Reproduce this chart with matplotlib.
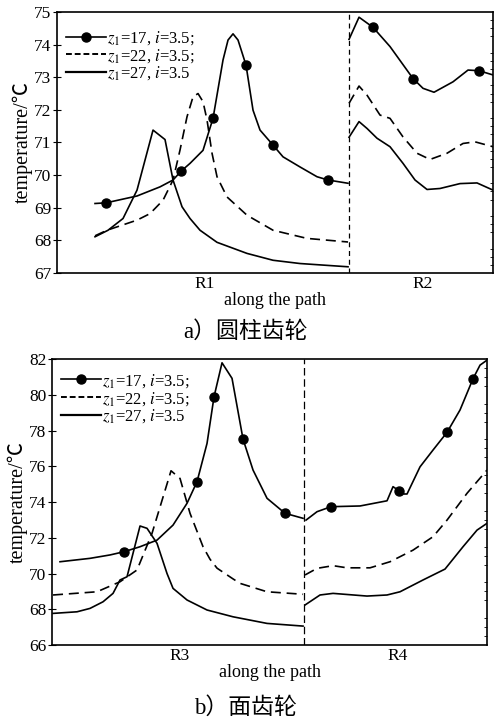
import matplotlib
matplotlib.use("Agg")
import matplotlib.pyplot as plt
from matplotlib.lines import Line2D
from matplotlib.ticker import MultipleLocator

plt.rcParams['font.family'] = ['Liberation Serif', 'Noto Sans CJK SC']
plt.rcParams['mathtext.fontset'] = 'stix'

#--- a) cylindrical gear, R1 | R2
a_div = 292
a_z17_r1_x = [38, 49, 80, 103, 116, 124, 133, 146, 156, 166, 171, 176, 181, 189, 196, 203, 216, 226, 243, 260, 271, 291]
a_z17_r1_y = [69.13, 69.15, 69.36, 69.64, 69.85, 70.12, 70.36, 70.76, 71.74, 73.53, 74.14, 74.33, 74.14, 73.37,
              71.99, 71.38, 70.92, 70.56, 70.25, 69.95, 69.85, 69.75]
a_z17_r1_mk = [1, 5, 8, 13, 16, 20]
a_z17_r2_x = [292, 302, 316, 333, 356, 366, 377, 396, 411, 422, 436]
a_z17_r2_y = [74.16, 74.84, 74.53, 73.94, 72.96, 72.66, 72.54, 72.86, 73.22, 73.20, 73.07]
a_z17_r2_mk = [2, 4, 9]

a_z22_r1_x = [38, 50, 80, 93, 106, 116, 123, 130, 136, 141, 146, 150, 155, 160, 170, 190, 216, 250, 291]
a_z22_r1_y = [68.14, 68.31, 68.62, 68.82, 69.23, 69.85, 70.77, 71.79, 72.40, 72.50, 72.25, 71.69, 70.67,
              69.95, 69.33, 68.77, 68.31, 68.06, 67.95]
a_z22_r2_x = [292, 302, 310, 323, 333, 346, 360, 373, 390, 406, 418, 436]
a_z22_r2_y = [72.20, 72.73, 72.45, 71.84, 71.74, 71.17, 70.67, 70.48, 70.67, 70.97, 71.02, 70.87]

a_z27_r1_x = [38, 51, 66, 80, 96, 108, 116, 125, 133, 143, 160, 190, 216, 243, 291]
a_z27_r1_y = [68.11, 68.31, 68.67, 69.54, 71.38, 71.09, 69.85, 69.03, 68.67, 68.31, 67.94, 67.60, 67.39, 67.29, 67.19]
a_z27_r2_x = [292, 302, 310, 320, 333, 346, 358, 370, 383, 403, 420, 436]
a_z27_r2_y = [71.16, 71.64, 71.43, 71.13, 70.87, 70.36, 69.85, 69.56, 69.59, 69.74, 69.76, 69.54]

#--- b) face gear, R3 | R4
b_div = 251.5
b_z17_r3_x = [8, 38, 58, 72, 88, 105, 121, 135, 145, 155, 162, 170, 180, 191, 201, 215, 233, 251]
b_z17_r3_y = [70.66, 70.85, 71.04, 71.22, 71.50, 71.87, 72.71, 73.93, 75.14, 77.28, 79.89, 81.79, 80.92,
              77.52, 75.79, 74.21, 73.37, 73.09]
b_z17_r3_mk = [3, 8, 10, 13, 16]
b_z17_r4_x = [254, 265, 279, 308, 335, 341, 347, 352, 355, 368, 381, 395, 408, 421, 428, 435]
b_z17_r4_y = [72.99, 73.46, 73.74, 73.78, 74.07, 74.86, 74.63, 74.45, 74.45, 75.97, 76.91, 77.90, 79.15,
              80.90, 81.66, 81.94]
b_z17_r4_mk = [2, 6, 11, 13]

b_z22_r3_x = [1, 45, 68, 85, 100, 119, 128, 138, 151, 158, 165, 181, 188, 215, 251]
b_z22_r3_y = [68.80, 68.98, 69.54, 70.20, 72.25, 75.75, 75.32, 73.37, 71.50, 70.80, 70.30, 69.70, 69.45, 68.98, 68.84]
b_z22_r4_x = [253, 265, 281, 295, 318, 338, 361, 381, 395, 415, 435]
b_z22_r4_y = [69.92, 70.29, 70.44, 70.32, 70.32, 70.66, 71.31, 72.06, 72.99, 74.49, 75.79]

b_z27_r3_x = [1, 25, 38, 51, 61, 68, 75, 88, 95, 105, 115, 121, 135, 155, 181, 215, 251]
b_z27_r3_y = [67.77, 67.86, 68.05, 68.42, 68.89, 69.64, 69.82, 72.66, 72.53, 71.69, 70.00, 69.17, 68.52,
              67.96, 67.58, 67.21, 67.06]
b_z27_r4_x = [253, 268, 281, 315, 335, 348, 371, 393, 411, 425, 435]
b_z27_r4_y = [68.24, 68.80, 68.89, 68.74, 68.80, 68.98, 69.64, 70.25, 71.50, 72.43, 72.81]

labels = [r'$z_1$=17, $i$=3.5;', r'$z_1$=22, $i$=3.5;', r'$z_1$=27, $i$=3.5']
dash = (0, (6, 3.5))

fig = plt.figure(figsize=(4.95, 7.22), dpi=100)
ax1 = fig.add_axes([0.1152, 0.6219, 0.8808, 0.3615])
ax2 = fig.add_axes([0.1051, 0.1066, 0.8788, 0.3961])


def draw(ax, div, z17, z22, z27, xlim, ylim, ystep, regions, legy, ldash):
    for (x, y, mk) in z17:
        ax.plot(x, y, '-', color='k', lw=1.2, marker='o', ms=6.5, markevery=mk)
    for (x, y) in z22:
        ax.plot(x, y, color='k', lw=1.2, linestyle=dash)
    for (x, y) in z27:
        ax.plot(x, y, '-', color='k', lw=1.2)
    ax.axvline(div, color='k', lw=0.9, linestyle=ldash)
    ax.set_xlim(*xlim)
    ax.set_ylim(*ylim)
    ax.yaxis.set_major_locator(MultipleLocator(ystep))
    ax.yaxis.set_minor_locator(MultipleLocator(ystep / 4))
    ax.tick_params(axis='y', which='major', direction='inout', length=6, labelsize=12.5, right=False, pad=1)
    ax.tick_params(axis='y', which='minor', direction='in', length=2.5, left=False, right=True)
    ax.set_xticks([(xlim[0] + div) / 2 + 2, (div + xlim[1]) / 2 + 2])
    ax.set_xticklabels(regions)
    ax.tick_params(axis='x', length=0, labelsize=12.5, pad=2)
    ax.set_xlabel('along the path', fontsize=13, labelpad=0)
    ax.set_ylabel('temperature/℃', fontsize=14.5, labelpad=1)
    for s in ax.spines.values():
        s.set_linewidth(1.2)
    handles = [Line2D([], [], color='k', lw=1.2, marker='o', ms=6.5),
               Line2D([], [], color='k', lw=1.4, linestyle=(0, (3, 1.5))),
               Line2D([], [], color='k', lw=1.6)]
    leg = ax.legend(handles, labels, loc='upper left', bbox_to_anchor=(0.02, legy), frameon=False,
                    fontsize=12, handlelength=2.4, handletextpad=0.05, labelspacing=0.0,
                    borderpad=0, borderaxespad=0, numpoints=1)
    return leg


draw(ax1, a_div,
     [(a_z17_r1_x, a_z17_r1_y, a_z17_r1_mk), (a_z17_r2_x, a_z17_r2_y, a_z17_r2_mk)],
     [(a_z22_r1_x, a_z22_r1_y), (a_z22_r2_x, a_z22_r2_y)],
     [(a_z27_r1_x, a_z27_r1_y), (a_z27_r2_x, a_z27_r2_y)],
     (0, 436), (67, 75), 1, ['R1', 'R2'], 0.935, (0, (4, 3)))
draw(ax2, b_div,
     [(b_z17_r3_x, b_z17_r3_y, b_z17_r3_mk), (b_z17_r4_x, b_z17_r4_y, b_z17_r4_mk)],
     [(b_z22_r3_x, b_z22_r3_y), (b_z22_r4_x, b_z22_r4_y)],
     [(b_z27_r3_x, b_z27_r3_y), (b_z27_r4_x, b_z27_r4_y)],
     (0, 435), (66, 82), 2, ['R3', 'R4'], 0.955, (0, (6, 3)))

fig.text(0.495, 1 - 332 / 722, 'a）圆柱齿轮', ha='center', va='center', fontsize=16.5)
fig.text(0.495, 1 - 708 / 722, 'b）面齿轮', ha='center', va='center', fontsize=16.5)

fig.savefig('out.png', dpi=100)
